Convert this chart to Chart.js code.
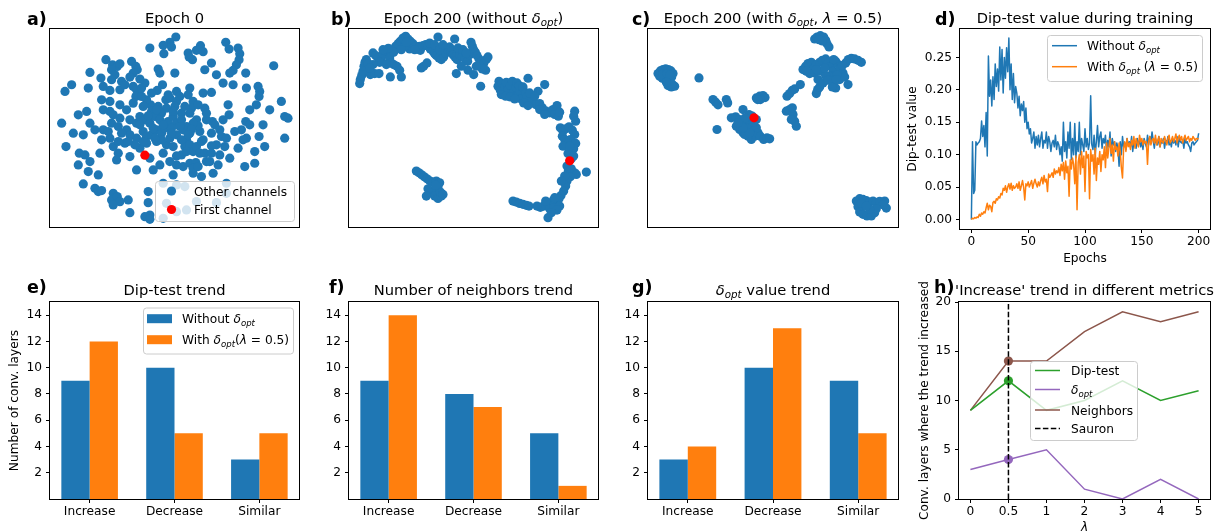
<!DOCTYPE html>
<html>
<head>
<meta charset="utf-8">
<script src="https://cdn.jsdelivr.net/npm/chart.js@4.4.1/dist/chart.umd.min.js"></script>
<style>
  html, body { margin: 0; padding: 0; background: #fff; }
  body { position: relative; width: 1220px; height: 531px; overflow: hidden; }
  canvas { position: absolute; }
</style>
</head>
<body>
<script>
// ---------------- data ----------------
// 2-D embeddings of the channels (arbitrary embedding units)
const A_OTHER = [[43.8,-5.2],[42.0,-6.8],[40.0,-7.7],[42.5,-8.2],[36.0,-8.5],[40.2,-10.2],[51.2,-7.8],[50.0,-9.2],[52.0,-9.6],[47.5,-10.0],[48.8,-12.0],[58.8,-6.8],[59.8,-8.8],[62.5,-8.5],[63.0,-10.2],[54.5,-13.0],[62.8,-12.0],[47.8,-11.2],
[62.0,-13.5],[61.0,-15.2],[60.0,-16.0],[64.8,-16.0],[73.2,-13.8],[52.5,-15.0],[22.8,-12.0],[24.8,-13.5],[26.2,-14.0],[27.0,-13.2],[24.5,-15.0],[30.5,-12.5],[31.8,-14.0],[32.2,-15.0],[31.0,-16.0],[38.5,-14.8],[39.0,-16.0],[43.5,-16.0],[18.0,-15.8],[56.0,-16.5],
[21.3,-17.5],[24.5,-18.0],[27.5,-18.5],[30.0,-17.2],[33.0,-17.8],[34.5,-19.0],[31.0,-20.0],[32.0,-21.0],[39.8,-19.5],[38.2,-21.2],[44.0,-21.5],[48.0,-20.5],[47.5,-22.5],[52.0,-22.0],[54.5,-21.8],[58.0,-19.0],[61.0,-19.5],[65.0,-20.5],[68.5,-20.0],[69.0,-21.5],[12.5,-19.5],[10.5,-21.5],[17.5,-20.5],[68.8,-23.0],[31.8,-23.0],[24.0,-21.2],[27.0,-21.0],[22.0,-20.0],
[40.8,-24.0],[75.5,-24.5],[68.0,-25.5],[66.0,-27.0],[59.5,-25.5],[52.5,-26.5],[49.0,-24.5],[48.5,-26.5],[48.0,-28.0],[45.5,-28.0],[42.0,-23.5],[44.0,-24.5],[43.5,-26.0],[41.0,-26.5],[38.5,-26.0],[36.2,-25.5],[35.0,-24.0],[34.0,-26.0],[29.0,-27.0],[27.0,-25.5],[24.0,-24.5],[21.5,-24.0],[22.0,-27.0],[24.0,-27.5],[17.0,-27.5],[14.5,-28.5],[59.8,-28.5],[76.5,-29.0],[77.5,-29.5],[31.0,-25.0],[33.5,-23.0],[36.5,-27.5],[39.5,-28.0],
[64.8,-30.5],[66.0,-31.5],[68.8,-35.0],[63.5,-33.0],[54.8,-30.5],[55.5,-31.5],[9.5,-31.0],[13.0,-34.0],[16.0,-34.5],[18.0,-31.0],[22.0,-33.0],[24.5,-31.0],[26.5,-32.0],[29.0,-33.0],[30.0,-30.0],[32.0,-31.0],[33.0,-29.0],[34.5,-30.0],[36.0,-31.0],[37.5,-29.0],[39.0,-30.0],[41.5,-30.5],[43.0,-29.0],[44.0,-31.0],[45.5,-30.0],[47.0,-32.0],[48.0,-34.0],[51.0,-33.5],[54.5,-34.0],[57.0,-33.0],[50.0,-30.0],[50.5,-31.8],[46.0,-33.0],[44.0,-34.5],[34.0,-33.5],[35.0,-35.0],[36.5,-34.5],[38.0,-33.0],[39.5,-34.0],[40.5,-32.5],[32.0,-35.5],[30.0,-34.5],[27.5,-34.0],[42.5,-32.5],[49.0,-31.0],[53.0,-30.0],
[76.5,-35.5],[65.0,-35.5],[47.0,-36.0],[46.5,-38.0],[48.0,-37.5],[49.0,-39.5],[50.0,-38.0],[52.0,-36.0],[57.5,-35.0],[56.0,-37.5],[54.5,-37.8],[58.5,-38.0],[59.0,-35.5],[67.5,-39.5],[10.8,-38.0],[14.8,-40.0],[16.5,-40.5],[21.0,-40.0],[21.5,-36.0],[24.0,-35.5],[25.0,-38.0],[28.5,-37.0],[33.0,-38.5],[36.0,-41.5],[40.0,-40.0],[41.0,-37.5],[43.0,-38.0],[45.5,-36.0],[45.5,-40.5],[44.0,-40.8],[30.0,-41.0],[38.0,-36.5],[39.5,-36.0],[35.0,-37.0],[42.0,-35.5],[47.0,-39.5],[51.0,-40.0],[52.5,-40.0],[26.5,-40.0],
[53.0,-42.5],[54.0,-42.5],[56.5,-43.5],[67.5,-43.0],[64.5,-44.0],[18.0,-42.5],[14.5,-43.5],[26.0,-42.0],[32.0,-45.0],[44.0,-43.5],[46.0,-44.0],[48.0,-43.0],[49.8,-42.8],[49.0,-46.0],[51.5,-47.0],[43.0,-46.5],[17.5,-45.5],[20.5,-46.5],[49.0,-44.5],
[19.5,-50.5],[20.5,-51.5],[21.5,-51.2],[16.0,-49.2],[25.0,-52.0],[24.5,-54.0],[26.2,-53.0],[27.0,-54.5],[29.5,-54.0],[25.0,-55.5],[30.0,-57.8],[35.5,-51.5],[35.5,-54.8],[36.0,-58.5],[34.5,-59.0],[36.0,-59.8],[40.0,-49.0],[44.0,-49.5],[46.5,-50.0],[59.0,-49.0],[59.0,-52.0],[47.0,-57.0],[44.0,-57.5],[50.0,-54.5],[56.0,-54.8],[42.5,-51.5],[41.0,-55.0],[40.0,-59.5],
[25.5,-16.5],[28.5,-19.5],[33.5,-20.5],[36.5,-22.0],[41.5,-22.5],[45.0,-23.0],[50.5,-25.5],[53.0,-28.0],[46.5,-26.0],[43.0,-27.5],[38.0,-27.0],[35.5,-28.8],[33.0,-31.5],[37.0,-32.5],[40.0,-31.5],[45.0,-32.0],[48.5,-32.8],[51.5,-36.5],[47.5,-34.5],[42.5,-34.0],[37.5,-35.5],[34.0,-36.5],[31.5,-37.5],[29.5,-36.5],[26.5,-36.5],[23.5,-33.5],[19.5,-33.0],[27.0,-29.5],[25.0,-28.5],[57.0,-40.5],[54.5,-40.0],[60.0,-41.5],[62.5,-38.5],[64.0,-36.0],[70.5,-38.0],[70.0,-31.5],[72.0,-27.0],[58.0,-30.0],[61.5,-33.5],[42.0,-42.5],[39.0,-43.5],[37.0,-45.0],[50.5,-44.0],[55.0,-46.0]];
const A_FIRST = [[34.5,-40.6]];

const B_OTHER = [[12.0,-25.2],[12.2,-24.0],[12.6,-22.8],[13.0,-21.5],[13.3,-20.0],[13.6,-18.8],[14.0,-18.0],[15.2,-22.5],[16.5,-22.2],[17.8,-22.2],[16.0,-16.0],[16.8,-16.8],[17.5,-17.5],[18.5,-18.2],[19.0,-16.5],[19.8,-15.5],[20.5,-15.0],[21.0,-17.5],[21.5,-19.0],[21.2,-23.2],[22.2,-19.5],[23.2,-20.0],[24.0,-21.2],[24.5,-23.2],[22.8,-14.0],[23.5,-13.2],[24.2,-12.5],[25.0,-11.5],[25.8,-11.0],[26.5,-11.8],[27.2,-12.5],[28.0,-13.2],[28.8,-14.0],[29.5,-14.8],[30.2,-15.2],[30.0,-14.0],[31.0,-13.8],[31.8,-13.5],[32.5,-14.0],[33.2,-14.8],[34.0,-15.5],[34.5,-16.2],[35.0,-16.8],[35.8,-17.5],[36.5,-18.0],[37.2,-17.2],[37.8,-16.0],[38.5,-15.0],[39.0,-14.2],[39.5,-15.5],[40.0,-16.5],[40.6,-17.2],[41.2,-18.0],[42.0,-16.5],[42.8,-17.0],[43.6,-17.8],[44.4,-18.5],[45.0,-16.5],[45.4,-12.8],[45.8,-14.0],[46.2,-15.0],[46.7,-15.8],[47.2,-16.8],[47.8,-17.8],[48.5,-18.5],[49.2,-19.2],[50.0,-18.0],[50.5,-17.2],[49.8,-21.2],[48.8,-20.8],[47.0,-20.0],[46.2,-22.5],[44.5,-21.2],[42.5,-20.0],[41.0,-22.2],[35.5,-11.2],[40.5,-11.8],[30.5,-20.5],[31.2,-20.0],[32.2,-19.0],[27.0,-14.8],[25.5,-14.0],[24.5,-15.0],[22.2,-15.8],[20.6,-14.6],[19.0,-15.0],[18.0,-18.8],[16.0,-19.5],[14.5,-19.2],[15.0,-20.5],[20.0,-19.5],[26.0,-12.8],[28.5,-15.0],[33.0,-13.0],[34.5,-13.5],[36.0,-15.0],[37.0,-13.5],[41.5,-14.5],[43.0,-15.0],[44.0,-16.0],
[48.3,-26.0],[53.8,-24.5],[53.5,-26.0],[54.2,-27.2],[54.8,-25.2],[55.5,-26.2],[56.0,-24.8],[56.5,-27.0],[57.2,-25.8],[57.8,-24.5],[58.2,-27.8],[58.8,-26.2],[59.2,-25.0],[59.5,-28.8],[60.0,-27.2],[60.5,-29.8],[59.8,-25.8],[61.0,-26.2],[61.8,-28.0],[62.5,-23.6],[62.2,-29.2],[63.2,-30.0],[64.0,-30.5],[64.8,-31.5],[65.5,-27.5],[66.0,-31.2],[66.8,-32.5],[67.5,-25.5],[68.0,-33.5],[69.0,-34.0],[70.0,-33.0],[70.5,-34.5],[71.2,-31.8],[71.6,-35.0],[72.0,-33.8],[54.5,-28.5],[55.8,-29.0],[57.2,-29.2],[58.5,-29.8],[63.0,-28.0],[64.5,-29.0],[61.2,-31.0],[62.5,-31.8],[66.0,-33.0],[67.5,-34.5],
[76.5,-33.5],[76.2,-35.0],[76.8,-36.5],[72.2,-38.5],[73.0,-39.5],[73.8,-38.8],[74.8,-38.2],[75.8,-39.2],[76.5,-40.5],[72.8,-41.0],[73.5,-42.0],[74.2,-42.8],[75.2,-42.0],[76.8,-43.2],[76.2,-44.8],[74.5,-46.2],[75.5,-47.8],[76.2,-47.0],[74.2,-50.0],[74.6,-51.5],[75.5,-50.8],[76.5,-52.0],[77.0,-52.5],[75.2,-53.2],[74.2,-54.5],[73.8,-56.0],[73.2,-57.5],[72.4,-58.8],[71.8,-59.8],[71.0,-60.8],[70.0,-60.4],[69.2,-61.4],[68.2,-61.6],[67.2,-62.0],[66.2,-62.4],[65.2,-62.0],[69.0,-62.8],[70.2,-62.5],[72.0,-62.0],[71.2,-63.2],[68.5,-65.5],[80.0,-51.8],[73.0,-44.0],[75.0,-44.0],[73.5,-53.0],[72.5,-54.5],[70.5,-59.5],[67.8,-60.5],[69.5,-64.0],
[58.0,-60.5],[59.0,-60.8],[60.0,-61.2],[61.0,-61.5],[62.0,-61.8],[62.8,-62.0],
[29.0,-51.5],[29.8,-52.0],[30.6,-52.6],[31.4,-53.2],[32.2,-53.8],[33.0,-54.4],[34.0,-54.8],[35.0,-54.5],[36.0,-55.0],[35.5,-56.2],[34.5,-57.2],[33.5,-58.0],[32.5,-56.8],[32.0,-59.0],[34.5,-59.0],[35.5,-59.7],[36.5,-59.0],[36.2,-57.8],[37.0,-58.5],[34.8,-55.8]];
const B_FIRST = [[75.0,-48.4]];

const C_OTHER = [[8.5,-22.2],[9.2,-21.4],[10.0,-21.0],[10.8,-20.8],[11.6,-21.0],[12.4,-21.4],[13.0,-22.2],[12.6,-23.2],[11.8,-23.8],[10.8,-24.0],[9.8,-23.6],[9.0,-23.0],[10.0,-22.2],[11.2,-22.2],[12.0,-22.6],[11.5,-25.8],[12.5,-26.2],[13.5,-26.0],[12.8,-25.4],[11.0,-24.8],
[20.8,-23.5],
[25.0,-30.0],[25.8,-30.8],[26.5,-31.6],[29.0,-30.0],[29.4,-31.0],
[38.0,-29.5],[39.0,-29.0],[40.0,-28.8],[40.6,-29.4],[39.2,-30.0],[38.4,-30.0],
[34.0,-33.0],[30.5,-35.5],[31.8,-35.2],[33.0,-36.0],[34.5,-36.8],[35.5,-36.0],[36.0,-37.5],[36.5,-38.5],[35.0,-39.5],[34.0,-40.0],[33.0,-39.0],[32.0,-38.0],[33.5,-37.5],[37.0,-39.5],[38.0,-38.5],[38.5,-40.0],[37.5,-41.0],[36.5,-42.0],[35.5,-41.0],[34.5,-40.5],[39.2,-41.0],[40.2,-42.0],[41.2,-41.5],[42.0,-41.8],[26.2,-39.0],[38.0,-36.0],[36.8,-35.0],[35.0,-38.5],[36.0,-40.0],[34.0,-38.5],[32.5,-37.0],[37.2,-36.8],[35.8,-34.5],[34.7,-35.5],
[47.0,-33.5],[48.0,-33.0],[49.0,-34.5],[49.5,-36.5],[50.0,-38.0],[48.5,-36.0],[48.8,-32.5],
[47.2,-29.0],[48.0,-28.2],[48.8,-27.2],[49.5,-26.8],[51.2,-25.5],[56.0,-28.2],[56.4,-27.0],[57.0,-26.2],
[52.0,-21.0],[52.8,-20.0],[53.5,-19.2],[54.5,-18.8],[55.2,-20.5],[56.0,-19.5],[57.0,-18.8],[57.8,-18.2],[58.8,-17.8],[59.6,-18.8],[60.4,-20.0],[61.0,-21.5],[61.8,-18.5],[62.6,-19.5],[63.2,-20.5],[64.0,-22.0],[64.8,-19.0],[65.6,-18.0],[66.5,-17.6],[67.5,-17.8],[68.5,-18.2],[69.5,-18.8],[60.0,-23.0],[61.0,-25.0],[61.8,-26.5],[63.0,-24.0],[64.5,-23.2],[65.5,-25.5],[57.5,-21.5],[58.8,-22.8],[55.5,-22.0],[54.0,-22.2],[56.5,-24.0],[58.0,-25.0],[62.2,-22.5],[63.8,-19.8],[60.8,-26.2],[59.5,-24.2],[58.5,-20.5],[56.0,-21.0],[53.0,-21.5],[61.2,-18.0],[62.0,-24.0],
[55.5,-11.8],[56.2,-11.2],[57.2,-10.8],[58.2,-11.2],[58.8,-12.2],[59.2,-13.2],[59.8,-14.2],[57.8,-12.4],[56.8,-12.0],
[68.0,-60.5],[69.0,-59.8],[70.0,-60.0],[71.0,-60.4],[72.0,-60.8],[73.0,-60.5],[74.0,-61.0],[75.0,-60.6],[76.5,-60.5],[77.0,-62.6],[76.0,-61.6],[68.5,-62.2],[69.0,-63.8],[70.0,-64.5],[71.2,-65.0],[72.5,-65.0],[73.5,-64.0],[74.0,-62.8],[72.0,-63.0],[70.0,-62.0],[69.5,-61.2],[71.0,-62.0]];
const C_FIRST = [[37.3,-35.5]];

// dip-test value per epoch (0..200)
const DIP_WITHOUT = [
0.000,0.120,0.040,0.045,0.120,0.115,0.118,0.120,0.125,0.152,
0.128,0.145,0.112,0.165,0.098,0.252,0.190,0.215,0.175,0.220,
0.185,0.240,0.205,0.232,0.198,0.266,0.215,0.262,0.195,0.250,
0.218,0.265,0.228,0.280,0.200,0.240,0.185,0.225,0.180,0.205,
0.195,0.172,0.190,0.160,0.178,0.168,0.182,0.150,0.172,0.140,
0.150,0.132,0.140,0.118,0.125,0.135,0.110,0.128,0.115,0.130,
0.112,0.125,0.135,0.110,0.122,0.118,0.135,0.110,0.128,0.120,
0.105,0.118,0.122,0.112,0.130,0.108,0.120,0.115,0.100,0.112,
0.090,0.150,0.105,0.120,0.095,0.135,0.110,0.150,0.092,0.125,
0.100,0.148,0.095,0.120,0.105,0.150,0.100,0.125,0.115,0.105,
0.140,0.112,0.125,0.108,0.118,0.191,0.115,0.108,0.130,0.100,
0.120,0.145,0.112,0.128,0.135,0.110,0.125,0.118,0.130,0.105,
0.122,0.112,0.135,0.098,0.125,0.115,0.120,0.105,0.118,0.110,
0.082,0.120,0.100,0.128,0.112,0.118,0.108,0.125,0.115,0.120,
0.112,0.128,0.105,0.120,0.118,0.110,0.125,0.115,0.122,0.112,
0.120,0.108,0.125,0.118,0.112,0.130,0.115,0.128,0.120,0.135,
0.122,0.110,0.125,0.118,0.115,0.128,0.112,0.120,0.118,0.125,
0.110,0.122,0.118,0.128,0.115,0.120,0.112,0.125,0.118,0.122,
0.115,0.128,0.112,0.125,0.120,0.118,0.122,0.110,0.125,0.118,
0.120,0.115,0.112,0.105,0.118,0.120,0.115,0.118,0.120,0.122,
0.133];
const DIP_WITH = [
0.000,0.002,0.001,0.003,0.002,0.004,0.003,0.008,0.005,0.010,
0.008,0.012,0.010,0.018,0.025,0.015,0.022,0.020,0.012,0.026,
0.028,0.025,0.032,0.030,0.035,0.033,0.040,0.038,0.048,0.045,
0.052,0.042,0.050,0.055,0.047,0.056,0.045,0.052,0.048,0.050,
0.055,0.048,0.058,0.045,0.052,0.060,0.050,0.030,0.055,0.052,
0.058,0.050,0.055,0.060,0.048,0.056,0.062,0.055,0.050,0.058,
0.052,0.060,0.065,0.055,0.068,0.058,0.062,0.043,0.070,0.065,
0.068,0.072,0.065,0.078,0.070,0.075,0.072,0.080,0.068,0.085,
0.075,0.088,0.062,0.090,0.072,0.082,0.036,0.092,0.078,0.095,
0.085,0.055,0.098,0.015,0.088,0.100,0.070,0.105,0.080,0.098,
0.043,0.105,0.095,0.100,0.032,0.108,0.090,0.100,0.070,0.110,
0.060,0.095,0.085,0.105,0.074,0.100,0.092,0.112,0.080,0.118,
0.095,0.110,0.125,0.102,0.115,0.090,0.120,0.108,0.112,0.098,
0.118,0.105,0.080,0.064,0.110,0.120,0.105,0.125,0.112,0.118,
0.108,0.122,0.115,0.128,0.110,0.125,0.118,0.112,0.130,0.120,
0.125,0.115,0.122,0.118,0.120,0.085,0.120,0.128,0.115,0.122,
0.125,0.118,0.130,0.115,0.122,0.128,0.112,0.125,0.120,0.118,
0.128,0.122,0.115,0.125,0.130,0.118,0.122,0.128,0.120,0.125,
0.132,0.118,0.125,0.130,0.122,0.128,0.118,0.125,0.130,0.122,
0.125,0.128,0.120,0.125,0.122,0.128,0.125,0.122,0.125,0.124,
0.125];
const EPOCHS = DIP_WITHOUT.map((_, i) => i);

// trend counts (number of conv. layers)
const TREND_CATS = ['Increase', 'Decrease', 'Similar'];
const DIP_TREND_WITHOUT = [9, 10, 3];
const DIP_TREND_WITH = [12, 5, 5];
const NEIGH_TREND_WITHOUT = [9, 8, 5];
const NEIGH_TREND_WITH = [14, 7, 1];
const DELTA_TREND_WITHOUT = [3, 10, 9];
const DELTA_TREND_WITH = [4, 13, 5];

// 'Increase' counts for each lambda
const LAMBDAS = ['0', '0.5', '1', '2', '3', '4', '5'];
const INC_DIP = [9, 12, 9, 10, 12, 10, 11];
const INC_DELTA = [3, 4, 5, 1, 0, 2, 0];
const INC_NEIGH = [9, 14, 14, 17, 19, 18, 19];
const SAURON_LAMBDA = '0.5';

// tick values
const D_XTICKS = [0, 50, 100, 150, 200];
const D_YTICKS = [0, 0.05, 0.10, 0.15, 0.20, 0.25];
const BAR_YTICKS = [2, 4, 6, 8, 10, 12, 14];
const H_YTICKS = [0, 5, 10, 15, 20];

// ---------------- styling ----------------
const BLUE = '#1f77b4', ORANGE = '#ff7f0e', GREEN = '#2ca02c', PURPLE = '#9467bd', BROWN = '#8c564b', RED = '#ff0000';
const FAMILY = '"DejaVu Sans", "Liberation Sans", sans-serif';
const TICK_FS = 12.2, LABEL_FS = 12.2, TITLE_FS = 14.7, LETTER_FS = 17.5;
Chart.defaults.font.family = FAMILY;
Chart.defaults.font.size = TICK_FS;
Chart.defaults.color = '#000';
Chart.defaults.animation = false;

const DELTA_OPT = [{t: 'δ', it: true}, {t: 'opt', it: true, sub: true}];
const LAMBDA_EQ = [{t: 'λ', it: true}, {t: ' = 0.5'}];

function fontStr(size, it, bold) {
  return (it ? 'italic ' : '') + (bold ? 'bold ' : '') + size + 'px ' + FAMILY;
}
function richWidth(ctx, segs, size) {
  let w = 0;
  for (const s of segs) {
    ctx.font = fontStr(s.sub ? size * 0.7 : size, s.it, s.bold);
    w += ctx.measureText(s.t).width;
  }
  return w;
}
function drawRich(ctx, segs, x, y, size, align) {
  const w = richWidth(ctx, segs, size);
  let cx = align === 'center' ? x - w / 2 : (align === 'right' ? x - w : x);
  ctx.textAlign = 'left';
  ctx.textBaseline = 'alphabetic';
  ctx.fillStyle = '#000';
  for (const s of segs) {
    const fs = s.sub ? size * 0.7 : size;
    ctx.font = fontStr(fs, s.it, s.bold);
    ctx.fillText(s.t, cx, y + (s.sub ? size * 0.22 : 0));
    cx += ctx.measureText(s.t).width;
  }
}

// frame, titles, axis labels and legend boxes
function decorPlugin(spec) {
  const ox = spec.canvas[0], oy = spec.canvas[1];
  return {
    id: 'decor',
    afterDatasetsDraw(chart) {
      const ctx = chart.ctx, a = chart.chartArea;
      ctx.save();
      ctx.strokeStyle = '#000';
      ctx.lineWidth = 1;
      ctx.strokeRect(Math.round(a.left) - 0.5, Math.round(a.top) - 0.5,
                     Math.round(a.right - a.left) + 1, Math.round(a.bottom - a.top) + 1);
      const L = spec.legend;
      if (L) {
        const bx = L.box[0] - ox, by = L.box[1] - oy, bw = L.box[2], bh = L.box[3];
        ctx.beginPath();
        ctx.roundRect(bx + 0.5, by + 0.5, bw, bh, 3);
        ctx.fillStyle = 'rgba(255,255,255,0.8)';
        ctx.fill();
        ctx.strokeStyle = '#cccccc';
        ctx.stroke();
        const hx0 = L.handle[0] - ox, hx1 = L.handle[1] - ox;
        for (const r of L.rows) {
          const ry = r.y - oy;
          if (r.kind === 'marker') {
            ctx.beginPath();
            ctx.arc((hx0 + hx1) / 2, ry, 4.6, 0, Math.PI * 2);
            ctx.fillStyle = r.color;
            ctx.fill();
          } else if (r.kind === 'patch') {
            ctx.fillStyle = r.color;
            ctx.fillRect(hx0, ry - 4.5, hx1 - hx0, 9);
          } else {
            ctx.beginPath();
            ctx.setLineDash(r.dash || []);
            ctx.moveTo(hx0, ry);
            ctx.lineTo(hx1, ry);
            ctx.strokeStyle = r.color;
            ctx.lineWidth = 1.5;
            ctx.stroke();
            ctx.setLineDash([]);
          }
          drawRich(ctx, r.segs, L.text - ox, ry + 4.5, LABEL_FS, 'left');
        }
      }
      ctx.restore();
    },
    afterDraw(chart) {
      const ctx = chart.ctx;
      ctx.save();
      if (spec.title) drawRich(ctx, spec.title.segs, spec.title.x - ox, spec.title.y - oy, TITLE_FS, 'center');
      if (spec.letter) drawRich(ctx, [{t: spec.letter.t, bold: true}], spec.letter.x - ox, spec.letter.y - oy, LETTER_FS, 'left');
      if (spec.xlabel) drawRich(ctx, spec.xlabel.segs, spec.xlabel.x - ox, spec.xlabel.y - oy, LABEL_FS, 'center');
      if (spec.ylabel) {
        ctx.save();
        ctx.translate(spec.ylabel.x - ox, spec.ylabel.y - oy);
        ctx.rotate(-Math.PI / 2);
        drawRich(ctx, spec.ylabel.segs, 0, 0, LABEL_FS, 'center');
        ctx.restore();
      }
      ctx.restore();
    }
  };
}

function makeCanvas(r) {
  const c = document.createElement('canvas');
  c.width = r[2]; c.height = r[3];
  c.style.left = r[0] + 'px'; c.style.top = r[1] + 'px';
  c.style.width = r[2] + 'px'; c.style.height = r[3] + 'px';
  document.body.appendChild(c);
  return c;
}

// padding so that the plot area lands on the requested box
function paddingFor(canvas, box, yw, xh) {
  return {
    left: box[0] - canvas[0] - yw,
    top: box[1] - canvas[1],
    right: canvas[0] + canvas[2] - box[2],
    bottom: canvas[1] + canvas[3] - box[3] - xh
  };
}

function tickAxis(pos, min, max, ticks, size, fmt) {
  return {
    type: 'linear', position: pos, min: min, max: max, offset: false,
    border: {display: false},
    grid: {display: true, drawOnChartArea: false, drawTicks: true, tickLength: 4, color: '#000', lineWidth: 1, offset: false},
    ticks: {padding: pos === 'left' ? 4 : 2, color: '#000', font: {size: TICK_FS}, autoSkip: false, maxRotation: 0, minRotation: 0,
            callback: fmt},
    afterBuildTicks: s => { s.ticks = ticks.map(v => ({value: v})); },
    afterFit: s => { if (pos === 'left') s.width = size; else s.height = size; }
  };
}

function hiddenAxis(min, max) {
  return {type: 'linear', display: false, min: min, max: max};
}

// ---------------- scatter panels a, b, c ----------------
function scatterPanel(spec, other, first, xr, yr) {
  const canvas = makeCanvas(spec.canvas);
  new Chart(canvas, {
    type: 'scatter',
    data: {datasets: [
      {label: 'First channel', data: first.map(p => ({x: p[0], y: p[1]})), backgroundColor: RED,
       pointRadius: 4.6, pointBorderWidth: 0, pointHoverRadius: 4.6, order: 0},
      {label: 'Other channels', data: other.map(p => ({x: p[0], y: p[1]})), backgroundColor: BLUE,
       pointRadius: 4.6, pointBorderWidth: 0, pointHoverRadius: 4.6, order: 1}
    ]},
    options: {
      responsive: false, events: [],
      layout: {padding: paddingFor(spec.canvas, spec.box, 0, 0), autoPadding: false},
      plugins: {legend: {display: false}, tooltip: {enabled: false}},
      scales: {x: hiddenAxis(xr[0], xr[1]), y: hiddenAxis(yr[0], yr[1])}
    },
    plugins: [decorPlugin(spec)]
  });
}

scatterPanel({
  canvas: [0, 0, 305, 265], box: [50, 29, 299, 227],
  title: {segs: [{t: 'Epoch 0'}], x: 174.5, y: 22.5},
  letter: {t: 'a)', x: 27, y: 25},
  legend: {box: [155, 181, 139, 40], handle: [160, 183], text: 194, rows: [
    {kind: 'marker', color: BLUE, y: 191, segs: [{t: 'Other channels'}]},
    {kind: 'marker', color: RED, y: 209.5, segs: [{t: 'First channel'}]}
  ]}
}, A_OTHER, A_FIRST, [6.0, 80.8], [-62.1, -2.8]);

scatterPanel({
  canvas: [305, 0, 300, 265], box: [349, 29, 598, 227],
  title: {segs: [{t: 'Epoch 200 (without '}, ...DELTA_OPT, {t: ')'}], x: 473.5, y: 22.5},
  letter: {t: 'b)', x: 331, y: 25}
}, B_OTHER, B_FIRST, [8.8, 83.5], [-68.3, -8.8]);

scatterPanel({
  canvas: [605, 0, 297, 265], box: [648, 29, 898, 227],
  title: {segs: [{t: 'Epoch 200 (with '}, ...DELTA_OPT, {t: ', '}, ...LAMBDA_EQ, {t: ')'}], x: 773, y: 22.5},
  letter: {t: 'c)', x: 632, y: 25}
}, C_OTHER, C_FIRST, [5.5, 80.5], [-68.3, -8.8]);

// ---------------- panel d: dip-test value during training ----------------
(function () {
  const spec = {
    canvas: [902, 0, 318, 265], box: [960, 29, 1210, 229],
    title: {segs: [{t: 'Dip-test value during training'}], x: 1085, y: 22.5},
    letter: {t: 'd)', x: 935, y: 25},
    xlabel: {segs: [{t: 'Epochs'}], x: 1085, y: 262},
    ylabel: {segs: [{t: 'Dip-test value'}], x: 915.5, y: 129},
    legend: {box: [1047, 35, 155, 46], handle: [1052, 1077], text: 1087, rows: [
      {kind: 'line', color: BLUE, y: 45.7, segs: [{t: 'Without '}, ...DELTA_OPT]},
      {kind: 'line', color: ORANGE, y: 66.7, segs: [{t: 'With '}, ...DELTA_OPT, {t: ' ('}, ...LAMBDA_EQ, {t: ')'}]}
    ]}
  };
  const canvas = makeCanvas(spec.canvas);
  new Chart(canvas, {
    type: 'line',
    data: {datasets: [
      {label: 'Without', data: DIP_WITHOUT.map((v, i) => ({x: EPOCHS[i], y: v})), borderColor: BLUE,
       borderWidth: 1.5, pointRadius: 0, tension: 0, borderJoinStyle: 'round', order: 2},
      {label: 'With', data: DIP_WITH.map((v, i) => ({x: EPOCHS[i], y: v})), borderColor: ORANGE,
       borderWidth: 1.5, pointRadius: 0, tension: 0, borderJoinStyle: 'round', order: 1}
    ]},
    options: {
      responsive: false, events: [],
      layout: {padding: paddingFor(spec.canvas, spec.box, 40, 20), autoPadding: false},
      plugins: {legend: {display: false}, tooltip: {enabled: false}},
      scales: {
        x: tickAxis('bottom', -10, 210, D_XTICKS, 20, v => String(v)),
        y: tickAxis('left', -0.0147, 0.2938, D_YTICKS, 40, v => v.toFixed(2))
      }
    },
    plugins: [decorPlugin(spec)]
  });
})();

// ---------------- bar panels e, f, g ----------------
function barPanel(spec, without, withOpt) {
  const canvas = makeCanvas(spec.canvas);
  new Chart(canvas, {
    type: 'bar',
    data: {datasets: [
      {label: 'Without', data: without.map((v, i) => ({x: i, y: v})), backgroundColor: BLUE,
       borderWidth: 0, categoryPercentage: 2 / 3, barPercentage: 1},
      {label: 'With', data: withOpt.map((v, i) => ({x: i, y: v})), backgroundColor: ORANGE,
       borderWidth: 0, categoryPercentage: 2 / 3, barPercentage: 1}
    ]},
    options: {
      responsive: false, events: [],
      layout: {padding: paddingFor(spec.canvas, spec.box, 30, 20), autoPadding: false},
      plugins: {legend: {display: false}, tooltip: {enabled: false}},
      scales: {
        x: tickAxis('bottom', -0.467, 2.467, TREND_CATS.map((_, i) => i), 20, v => TREND_CATS[v]),
        y: tickAxis('left', 0, 15, BAR_YTICKS, 30, v => String(v))
      }
    },
    plugins: [decorPlugin(spec)]
  });
}

barPanel({
  canvas: [0, 265, 305, 266], box: [50, 302, 299, 499],
  title: {segs: [{t: 'Dip-test trend'}], x: 174.5, y: 294.5},
  letter: {t: 'e)', x: 27, y: 293},
  ylabel: {segs: [{t: 'Number of conv. layers'}], x: 17.5, y: 400.5},
  legend: {box: [143, 307.5, 150, 46], handle: [147, 172], text: 182, rows: [
    {kind: 'patch', color: BLUE, y: 318.7, segs: [{t: 'Without '}, ...DELTA_OPT]},
    {kind: 'patch', color: ORANGE, y: 339.7, segs: [{t: 'With '}, ...DELTA_OPT, {t: '('}, ...LAMBDA_EQ, {t: ')'}]}
  ]}
}, DIP_TREND_WITHOUT, DIP_TREND_WITH);

barPanel({
  canvas: [305, 265, 300, 266], box: [349, 302, 598, 499],
  title: {segs: [{t: 'Number of neighbors trend'}], x: 473.5, y: 294.5},
  letter: {t: 'f)', x: 329, y: 293}
}, NEIGH_TREND_WITHOUT, NEIGH_TREND_WITH);

barPanel({
  canvas: [605, 265, 298, 266], box: [648, 302, 898, 499],
  title: {segs: [...DELTA_OPT, {t: ' value trend'}], x: 773, y: 294.5},
  letter: {t: 'g)', x: 632, y: 293}
}, DELTA_TREND_WITHOUT, DELTA_TREND_WITH);

// ---------------- panel h: 'Increase' trend vs lambda ----------------
(function () {
  const spec = {
    canvas: [903, 265, 317, 266], box: [959, 302, 1210, 499],
    title: {segs: [{t: "'Increase' trend in different metrics"}], x: 1084.5, y: 294.5},
    letter: {t: 'h)', x: 934, y: 293},
    xlabel: {segs: [{t: 'λ', it: true}], x: 1084.5, y: 530.5},
    ylabel: {segs: [{t: 'Conv. layers where the trend increased'}], x: 927.5, y: 400.5},
    legend: {box: [1030, 361, 107, 79], handle: [1035, 1060], text: 1071, rows: [
      {kind: 'line', color: GREEN, y: 370.5, segs: [{t: 'Dip-test'}]},
      {kind: 'line', color: PURPLE, y: 389.5, segs: DELTA_OPT},
      {kind: 'line', color: BROWN, y: 410, segs: [{t: 'Neighbors'}]},
      {kind: 'line', color: '#000', dash: [5.5, 2.4], y: 428.5, segs: [{t: 'Sauron'}]}
    ]}
  };
  const s = LAMBDAS.indexOf(SAURON_LAMBDA);
  const H_YMIN = H_YTICKS[0], H_YMAX = H_YTICKS[H_YTICKS.length - 1];
  const series = (vals, color) => ({
    data: vals.map((v, i) => ({x: i, y: v})), borderColor: color, backgroundColor: color,
    borderWidth: 1.5, tension: 0, pointBorderWidth: 0, pointBackgroundColor: color,
    pointRadius: c => (c.dataIndex === s ? 4.6 : 0), pointHoverRadius: 0
  });
  const canvas = makeCanvas(spec.canvas);
  new Chart(canvas, {
    type: 'line',
    data: {datasets: [
      Object.assign(series(INC_DIP, GREEN), {label: 'Dip-test'}),
      Object.assign(series(INC_DELTA, PURPLE), {label: 'delta'}),
      Object.assign(series(INC_NEIGH, BROWN), {label: 'Neighbors'}),
      {label: 'Sauron', data: [{x: s, y: H_YMIN}, {x: s, y: H_YMAX}], borderColor: '#000',
       borderWidth: 1.5, borderDash: [5.5, 2.4], pointRadius: 0, order: -1}
    ]},
    options: {
      responsive: false, events: [],
      layout: {padding: paddingFor(spec.canvas, spec.box, 30, 20), autoPadding: false},
      plugins: {legend: {display: false}, tooltip: {enabled: false}},
      scales: {
        x: tickAxis('bottom', -0.3, LAMBDAS.length - 0.7, LAMBDAS.map((_, i) => i), 20, v => LAMBDAS[v]),
        y: tickAxis('left', H_YMIN, H_YMAX, H_YTICKS, 30, v => String(v))
      }
    },
    plugins: [decorPlugin(spec)]
  });
})();
</script>
</body>
</html>
